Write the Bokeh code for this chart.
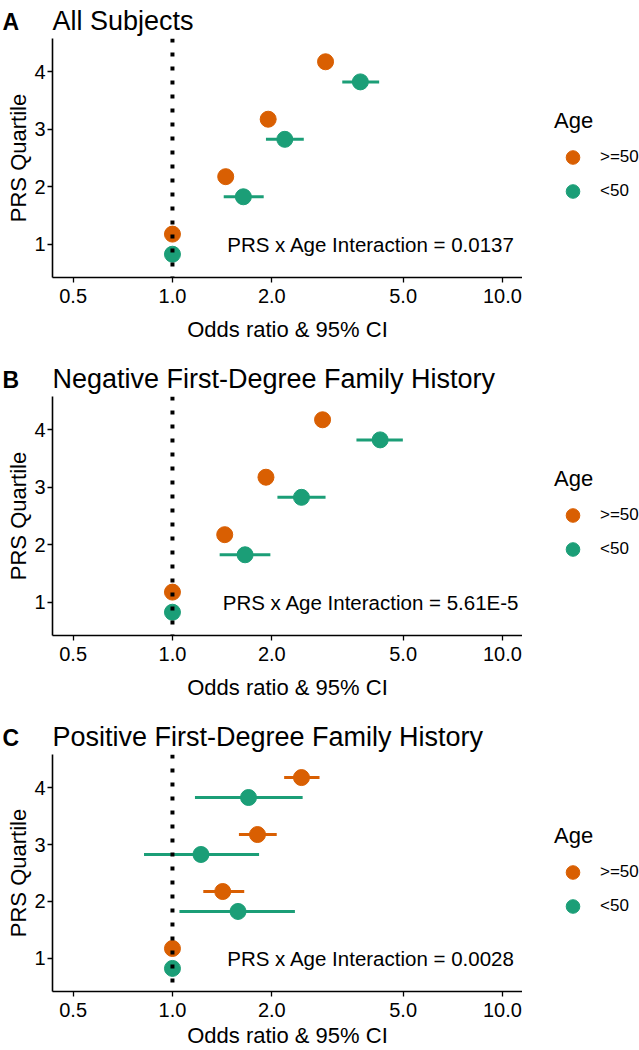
from bokeh.plotting import figure
from bokeh.models import (ColumnDataSource, Range1d, FixedTicker, Span, Title,
                          Legend, LegendItem, PrintfTickFormatter)
from bokeh.layouts import column, row
from bokeh.embed import file_html
from bokeh.resources import INLINE
from bokeh.core.properties import value
from bokeh.transform import dodge

# ---------------- data ----------------
quartiles = [1, 2, 3, 4]
x_ticks = [0.5, 1.0, 2.0, 5.0, 10.0]
age_groups = [">=50", "<50"]
panel_letters = ["A", "B", "C"]
panel_titles = ["All Subjects",
                "Negative First-Degree Family History",
                "Positive First-Degree Family History"]
interaction_texts = ["PRS x Age Interaction = 0.0137",
                     "PRS x Age Interaction = 5.61E-5",
                     "PRS x Age Interaction = 0.0028"]

# Panel A: All subjects
a_old_or = [1.0, 1.45, 1.95, 2.91]
a_old_lo = [1.0, 1.39, 1.87, 2.79]
a_old_hi = [1.0, 1.52, 2.04, 3.04]
a_young_or = [1.0, 1.64, 2.19, 3.71]
a_young_lo = [1.0, 1.43, 1.92, 3.27]
a_young_hi = [1.0, 1.89, 2.50, 4.23]

# Panel B: Negative family history
b_old_or = [1.0, 1.44, 1.92, 2.85]
b_old_lo = [1.0, 1.38, 1.84, 2.73]
b_old_hi = [1.0, 1.51, 2.01, 2.98]
b_young_or = [1.0, 1.66, 2.46, 4.26]
b_young_lo = [1.0, 1.39, 2.08, 3.61]
b_young_hi = [1.0, 1.98, 2.91, 4.99]

# Panel C: Positive family history
c_old_or = [1.0, 1.42, 1.81, 2.46]
c_old_lo = [1.0, 1.24, 1.59, 2.18]
c_old_hi = [1.0, 1.65, 2.07, 2.79]
c_young_or = [1.0, 1.58, 1.22, 1.70]
c_young_lo = [1.0, 1.05, 0.82, 1.17]
c_young_hi = [1.0, 2.35, 1.83, 2.48]

interaction_x = 4.0
interaction_y = 1.0

# ---------------- style ----------------
FONT = "Liberation Sans"
ORANGE = "#D95F02"
GREEN = "#1B9E77"
COLORS = [ORANGE, GREEN]
DODGE = 0.175
TITLE_SIZE = 27
TITLE_H = 29          # text box height of the title font
TITLE_STANDOFF = 6
MAIN_W = 522
LEG_W = 117
LEGEND_DUMMY = -1.0   # legend-only renderers sit outside the legend panel's range


def make_panel(letter, title, ann, old, young, height, bottom_border, xlabel_standoff):
    p = figure(width=MAIN_W, height=height, x_axis_type="log",
               x_range=Range1d(0.433, 11.5), y_range=Range1d(0.42, 4.58),
               output_backend="svg", toolbar_location=None,
               min_border_left=52, min_border_right=0,
               min_border_top=37, min_border_bottom=bottom_border,
               x_axis_label="Odds ratio & 95% CI", y_axis_label="PRS Quartile")
    p.outline_line_color = None
    p.xgrid.visible = False
    p.ygrid.visible = False
    p.background_fill_color = "white"
    p.border_fill_color = "white"

    # outer title: the bold panel tag, pulled down onto the heading line
    p.title.text = letter
    p.title.align = "left"
    p.title.offset = -50
    p.title.text_font = FONT
    p.title.text_font_size = "23px"
    p.title.text_font_style = "bold"
    p.title.text_color = "black"
    p.title.standoff = -4 - 2 * TITLE_H - TITLE_STANDOFF

    # inner title: the panel heading
    p.add_layout(Title(text=title, align="left", standoff=TITLE_STANDOFF,
                       text_font=FONT, text_font_size=f"{TITLE_SIZE}px",
                       text_font_style="normal", text_color="black"), "above")

    p.xaxis.ticker = FixedTicker(ticks=x_ticks)
    p.xaxis.formatter = PrintfTickFormatter(format="%.1f")
    p.yaxis.ticker = FixedTicker(ticks=quartiles)
    for ax in (p.xaxis[0], p.yaxis[0]):
        ax.axis_line_color = "black"
        ax.axis_line_width = 1.6
        ax.major_tick_line_color = "black"
        ax.major_tick_line_width = 1.3
        ax.major_tick_out = 5
        ax.major_tick_in = 0
        ax.minor_tick_line_color = None
        ax.major_label_text_font = FONT
        ax.major_label_text_font_size = "20px"
        ax.major_label_text_color = "black"
        ax.axis_label_text_font = FONT
        ax.axis_label_text_font_size = "22px"
        ax.axis_label_text_font_style = "normal"
        ax.axis_label_text_color = "black"
    p.xaxis.major_label_standoff = 6
    p.xaxis.axis_label_standoff = xlabel_standoff
    p.yaxis.major_label_standoff = 2
    p.yaxis.axis_label_standoff = 0

    for (or_, lo, hi), color, shift in ((old, ORANGE, DODGE), (young, GREEN, -DODGE)):
        src = ColumnDataSource(dict(q=quartiles, or_=or_, lo=lo, hi=hi))
        p.segment(x0="lo", x1="hi", y0=dodge("q", shift), y1=dodge("q", shift),
                  source=src, line_color=color, line_width=3)
        p.scatter(x="or_", y=dodge("q", shift), source=src, size=16,
                  fill_color=color, line_color=color)

    p.add_layout(Span(location=1.0, dimension="height", line_color="black",
                      line_width=4, line_dash="4 10"))

    p.text(x=[interaction_x], y=[interaction_y], text=[ann],
           text_align="center", text_baseline="middle",
           text_font=value(FONT), text_font_size="20.5px", text_color="black")
    return p


def make_legend(height):
    lp = figure(width=LEG_W, height=height, x_range=Range1d(0, 1),
                y_range=Range1d(0, 1), output_backend="svg",
                toolbar_location=None, x_axis_location=None,
                y_axis_location=None, min_border=0)
    lp.outline_line_color = None
    lp.xgrid.visible = False
    lp.ygrid.visible = False
    items = []
    for label, color in zip(age_groups, COLORS):
        dot = lp.scatter(x=[LEGEND_DUMMY], y=[LEGEND_DUMMY], size=16,
                         fill_color=color, line_color=color)
        items.append(LegendItem(label=label, renderers=[dot]))
    legend = Legend(items=items, title="Age", location="center_left",
                    orientation="vertical",
                    glyph_width=37, glyph_height=34, spacing=0, label_standoff=9,
                    padding=0, margin=32, border_line_color=None,
                    background_fill_alpha=0, title_standoff=6,
                    title_text_font=FONT, title_text_font_size="22px",
                    title_text_font_style="normal", title_text_color="black",
                    label_text_font=FONT, label_text_font_size="17px",
                    label_text_color="black")
    lp.add_layout(legend)
    return lp


p1 = make_panel(panel_letters[0], panel_titles[0], interaction_texts[0],
                (a_old_or, a_old_lo, a_old_hi), (a_young_or, a_young_lo, a_young_hi),
                358, 81, 11)
p2 = make_panel(panel_letters[1], panel_titles[1], interaction_texts[1],
                (b_old_or, b_old_lo, b_old_hi), (b_young_or, b_young_lo, b_young_hi),
                358, 81, 11)
p3 = make_panel(panel_letters[2], panel_titles[2], interaction_texts[2],
                (c_old_or, c_old_lo, c_old_hi), (c_young_or, c_young_lo, c_young_hi),
                334, 57, 3)

layout = column(row(p1, make_legend(358)),
                row(p2, make_legend(358)),
                row(p3, make_legend(334)))

with open("out.html", "w") as f:
    f.write(file_html(layout, INLINE))
